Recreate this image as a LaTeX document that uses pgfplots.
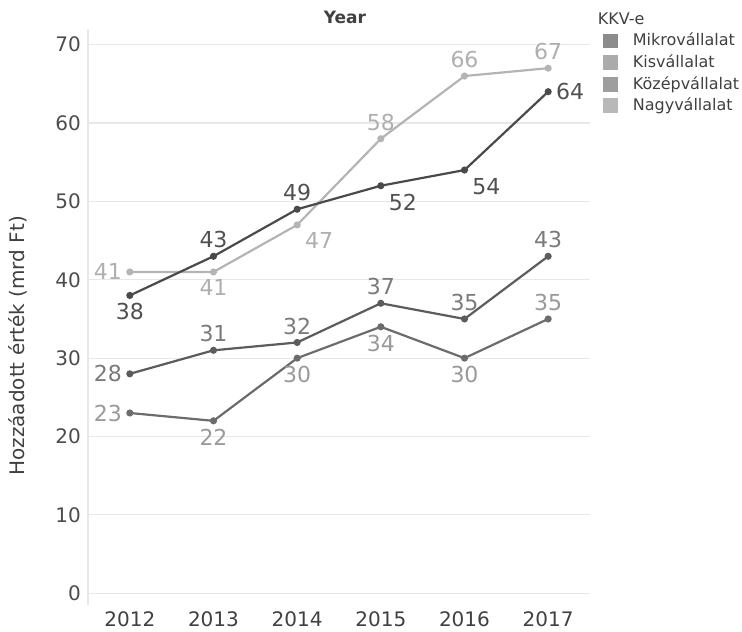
\documentclass[border=0pt]{standalone}
\usepackage{fontspec}
\setmainfont{DejaVu Sans}
\usepackage{pgfplots}
\pgfplotsset{compat=1.18}

\definecolor{cA}{HTML}{4A4A4A}
\definecolor{cB}{HTML}{B4B4B4}
\definecolor{cC}{HTML}{5C5C5C}
\definecolor{cD}{HTML}{6C6C6C}
\definecolor{lA}{HTML}{505050}
\definecolor{lB}{HTML}{AFAFAF}
\definecolor{lC}{HTML}{7A7A7A}
\definecolor{lD}{HTML}{999999}

\pgfplotsset{
  ln/.style={line width=1.1pt, mark=*, mark size=1.2pt},
  lb/.style 2 args={draw=none, mark=none, nodes near coords, point meta=y,
    every node near coord/.append style={anchor=#2, font=\fontsize{11}{13}\selectfont, inner sep=3.8pt, text=#1}},
}

\begin{document}
\begin{tikzpicture}
\begin{axis}[
  at={(44pt,13pt)}, anchor=south west,
  scale only axis,
  width=251pt, height=288pt,
  xmin=2011.5, xmax=2017.5,
  ymin=-1.5, ymax=72,
  xtick={2012,...,2017},
  ytick={0,10,...,70},
  xticklabel style={/pgf/number format/1000 sep={}, font=\fontsize{10}{12}\selectfont, text=black!75},
  yticklabel style={font=\fontsize{10}{12}\selectfont, text=black!70},
  /pgf/number format/assume math mode=true,
  major tick length=0pt,
  axis line style={draw=none},
  ymajorgrids, grid style={black!9, line width=0.6pt},
  ylabel={Hozzáadott érték (mrd Ft)},
  ylabel style={at={(axis description cs:-0.14,0.45)}, anchor=center, font=\fontsize{10}{12}\selectfont, text=black!75},
  title={Year},
  title style={at={(axis description cs:0.512,1.0)}, anchor=center, font=\bfseries\fontsize{8.5}{10}\selectfont, text=black!75},
  clip=false,
  legend style={at={(axis description cs:1.026,1.036)}, anchor=north west, draw=none, fill=none, inner sep=0pt, row sep=-1.1pt, font=\fontsize{8}{9.5}\selectfont, text=black!75, legend cell align=left},
  legend image code/.code={\fill[draw=none] (0pt,-3.7pt) rectangle (7.5pt,3.7pt); \path (12.5pt,0pt);},
]
\addlegendimage{empty legend}\addlegendentry{\hspace{-17.5pt}KKV-e}
\addlegendimage{fill=black!45}\addlegendentry{Mikrovállalat}
\addlegendimage{fill=black!33}\addlegendentry{Kisvállalat}
\addlegendimage{fill=black!38}\addlegendentry{Középvállalat}
\addlegendimage{fill=black!28}\addlegendentry{Nagyvállalat}

% Series B (light)
\addplot[color=cB, ln, forget plot] coordinates {(2012,41) (2013,41) (2014,47) (2015,58) (2016,66) (2017,67)};
% Series D
\addplot[color=cD, ln, forget plot] coordinates {(2012,23) (2013,22) (2014,30) (2015,34) (2016,30) (2017,35)};
% Series C
\addplot[color=cC, ln, forget plot] coordinates {(2012,28) (2013,31) (2014,32) (2015,37) (2016,35) (2017,43)};
% Series A (dark)
\addplot[color=cA, ln, forget plot] coordinates {(2012,38) (2013,43) (2014,49) (2015,52) (2016,54) (2017,64)};

% labels
\addplot[lb={lB}{east}, forget plot] coordinates {(2012,41)};
\addplot[lb={lB}{north}, forget plot] coordinates {(2013,41)};
\addplot[lb={lB}{north west}, forget plot] coordinates {(2014,47)};
\addplot[lb={lB}{south}, forget plot] coordinates {(2015,58) (2016,66) (2017,67)};

\addplot[lb={lD}{east}, forget plot] coordinates {(2012,23)};
\addplot[lb={lD}{north}, forget plot] coordinates {(2013,22) (2014,30) (2015,34) (2016,30)};
\addplot[lb={lD}{south}, forget plot] coordinates {(2017,35)};

\addplot[lb={lC}{east}, forget plot] coordinates {(2012,28)};
\addplot[lb={lC}{south}, forget plot] coordinates {(2013,31) (2014,32) (2015,37) (2016,35) (2017,43)};

\addplot[lb={lA}{north}, forget plot] coordinates {(2012,38)};
\addplot[lb={lA}{south}, forget plot] coordinates {(2013,43) (2014,49)};
\addplot[lb={lA}{north west}, forget plot] coordinates {(2015,52) (2016,54)};
\addplot[lb={lA}{west}, forget plot] coordinates {(2017,64)};

\draw[black!9, line width=0.6pt] (rel axis cs:0,0) -- (rel axis cs:0,1);
\end{axis}
\pgfresetboundingbox
\path[use as bounding box] (0,0) rectangle (371pt,315.5pt);
\end{tikzpicture}
\end{document}
